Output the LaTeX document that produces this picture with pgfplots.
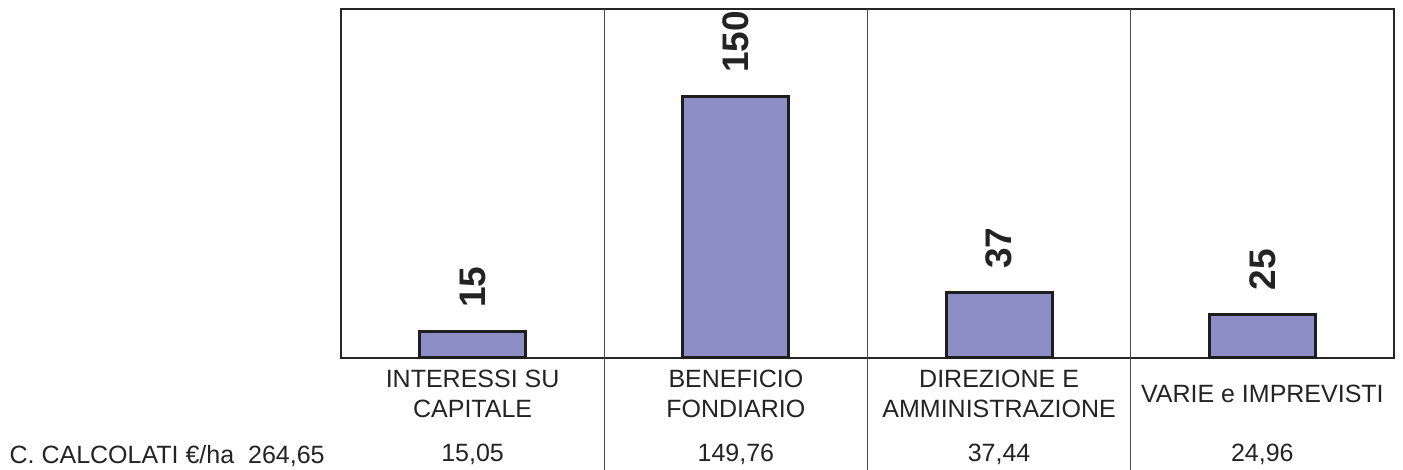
\documentclass[border=0pt]{standalone}
\usepackage{pgfplots}
\pgfplotsset{compat=1.18}
\usepackage{fontspec}
\setmainfont{Liberation Sans}
\definecolor{barfill}{RGB}{142,142,198}
\definecolor{edge}{RGB}{30,30,30}
\definecolor{txt}{RGB}{35,35,35}
\begin{document}
\begin{tikzpicture}
\begin{axis}[
  name=ax, at={(0,0)}, anchor=south west,
  scale only axis, width=526.5pt, height=174.5pt,
  xmin=-0.5, xmax=3.5, ymin=0, ymax=200,
  axis line style={draw=black!85, line width=1pt},
  ytick=\empty,
  xtick={0,1,2,3},
  xticklabels={{INTERESSI SU\\CAPITALE},{BENEFICIO\\FONDIARIO},{DIREZIONE E\\AMMINISTRAZIONE},{VARIE e IMPREVISTI}},
  xticklabel style={align=center, font=\fontsize{12.5}{15}\selectfont, anchor=center, yshift=-18pt, text=txt},
  major tick length=0pt,
  ybar, bar width=53pt,
  clip=false,
  nodes near coords={\pgfmathprintnumber[fixed,precision=0,assume math mode=true]{\pgfplotspointmeta}},
  every node near coord/.append style={rotate=90, anchor=west, inner sep=0pt, outer xsep=12pt, text=txt, font=\fontsize{18.5}{21}\selectfont\bfseries},
]
\addplot[fill=barfill, draw=edge, line width=1.5pt] coordinates {(0,15.05) (1,149.76) (2,37.44) (3,24.96)};
\draw[black!70, line width=0.65pt] (axis cs:0.5,200) -- ([yshift=-56pt]axis cs:0.5,0);
\draw[black!70, line width=0.65pt] (axis cs:1.5,200) -- ([yshift=-56pt]axis cs:1.5,0);
\draw[black!70, line width=0.65pt] (axis cs:2.5,200) -- ([yshift=-56pt]axis cs:2.5,0);
\node[anchor=base, text=txt, font=\fontsize{12.5}{15}\selectfont] at ([yshift=-52pt]axis cs:0,0) {15,05};
\node[anchor=base, text=txt, font=\fontsize{12.5}{15}\selectfont] at ([yshift=-52pt]axis cs:1,0) {149,76};
\node[anchor=base, text=txt, font=\fontsize{12.5}{15}\selectfont] at ([yshift=-52pt]axis cs:2,0) {37,44};
\node[anchor=base, text=txt, font=\fontsize{12.5}{15}\selectfont] at ([yshift=-52pt]axis cs:3,0) {24,96};
\node[anchor=base east, inner sep=0pt, text=txt, font=\fontsize{12.5}{15}\selectfont] at ([xshift=-8pt, yshift=-53pt]axis cs:-0.5,0) {C. CALCOLATI €/ha\ \ 264,65};
\end{axis}
\pgfresetboundingbox
\path[use as bounding box] (-170.5pt,-56pt) rectangle (531pt,179pt);
\end{tikzpicture}
\end{document}
